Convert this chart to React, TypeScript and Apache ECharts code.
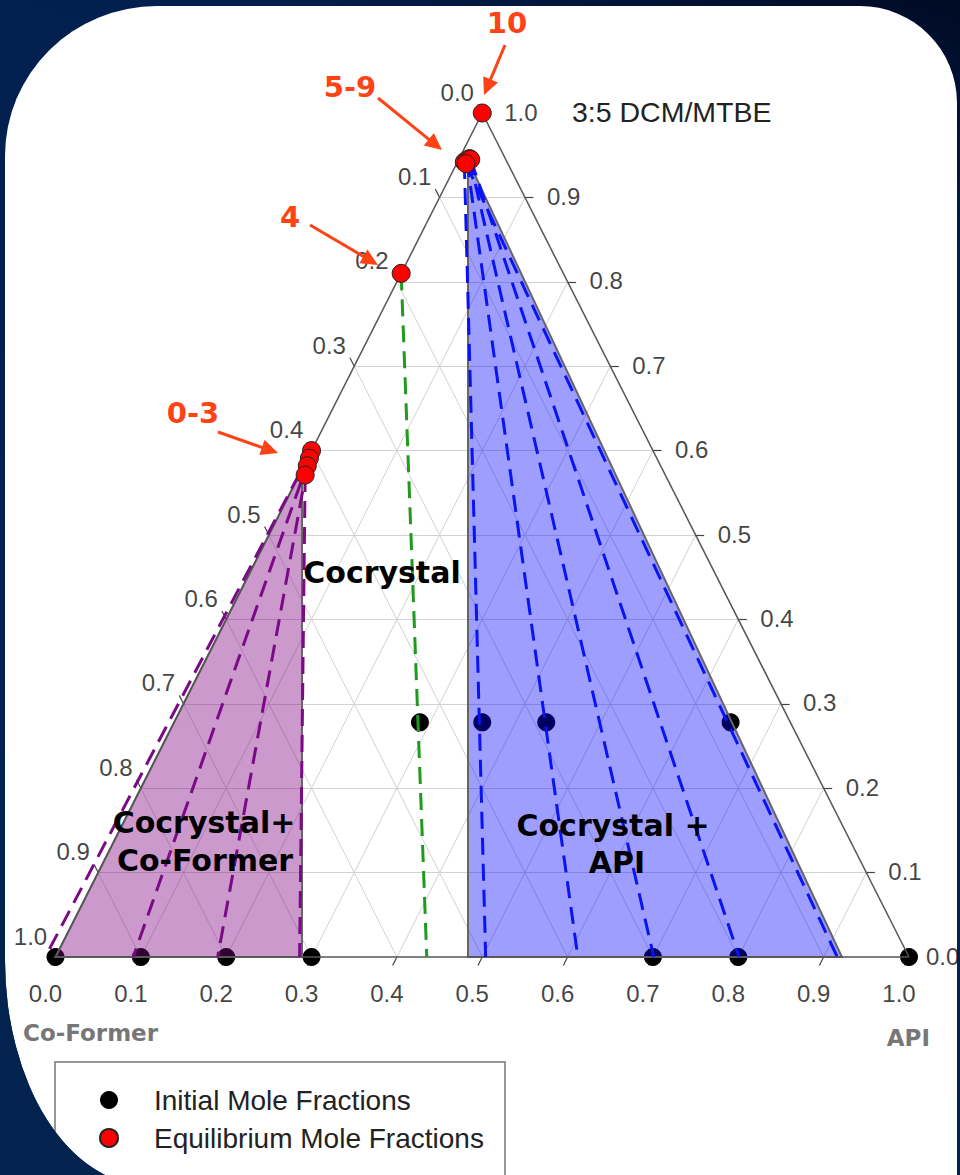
import React, { useEffect, useRef } from "react";
import * as echarts from "echarts";

// ---------- data ----------
const tickValues = [0, 0.1, 0.2, 0.3, 0.4, 0.5, 0.6, 0.7, 0.8, 0.9, 1.0];
const bottomTickLabels = ["0.0", "0.1", "0.2", "0.3", "0.4", "0.5", "0.6", "0.7", "0.8", "0.9", "1.0"];
// left edge: co-former fraction, from top vertex (0.0) to bottom-left vertex (1.0)
const leftTickLabels = ["0.0", "0.1", "0.2", "0.3", "0.4", "0.5", "0.6", "0.7", "0.8", "0.9", "1.0"];
// right edge: solvent fraction, from top vertex (1.0) to bottom-right vertex (0.0)
const rightTickLabels = ["1.0", "0.9", "0.8", "0.7", "0.6", "0.5", "0.4", "0.3", "0.2", "0.1", "0.0"];

// initial mole fractions (API, solvent)
const initialAPI = [0.0, 0.1, 0.2, 0.3, 0.7, 0.8, 1.0, 0.288, 0.361, 0.436, 0.652];
const initialSolvent = [0, 0, 0, 0, 0, 0, 0, 0.278, 0.278, 0.278, 0.278];

// equilibrium mole fractions (API, solvent)
const eqNames = ["0", "1", "2", "3", "4", "5", "6", "7", "8", "9", "10"];
const eqAPI = [0.0, 0.002, 0.004, 0.007, 0.0, 0.008, 0.01, 0.012, 0.014, 0.011, 0.0];
const eqSolvent = [0.6, 0.591, 0.582, 0.571, 0.81, 0.942, 0.944, 0.946, 0.945, 0.94, 1.0];

// tie lines: equilibrium point index -> API fraction of the solid end (solvent = 0)
const purpleTieFrom = [0, 1, 2, 3];
const purpleTieTo = [-0.012, 0.091, 0.19, 0.286];
const greenTieFrom = [4];
const greenTieTo = [0.435];
const blueTieFrom = [5, 6, 7, 8, 9];
const blueTieTo = [0.504, 0.612, 0.701, 0.801, 0.916];

// phase regions (API, solvent) vertices
const coformerRegionAPI = [0, 0, 0.2888];
const coformerRegionSolvent = [0, 0.5776, 0];
const apiRegionAPI = [0.0113, 0.4833, 0.9215];
const apiRegionSolvent = [0.944, 0, 0];

// ---------- helpers ----------
const toXY = (a: number, s: number): [number, number] => [a + s / 2, s];
const RED = "#ff4316";
const SANS = '"Liberation Sans", Arial, sans-serif';
const BOLD = '"DejaVu Sans", Verdana, sans-serif';

function arrow(x1: number, y1: number, x2: number, y2: number) {
  const dx = x2 - x1, dy = y2 - y1;
  const L = Math.hypot(dx, dy);
  const ux = dx / L, uy = dy / L;
  const head = 17, hw = 8;
  const bx = x2 - ux * head, by = y2 - uy * head;
  const px = -uy, py = ux;
  return [
    { type: "line", z: 100, shape: { x1, y1, x2: bx + ux * 2, y2: by + uy * 2 }, style: { stroke: RED, lineWidth: 3 } },
    {
      type: "polygon",
      z: 100,
      shape: { points: [[x2, y2], [bx + px * hw, by + py * hw], [bx - px * hw, by - py * hw]] },
      style: { fill: RED },
    },
  ];
}

function txt(text: string, x: number, y: number, font: string, fill: string, align = "center") {
  return { type: "text", z: 100, x, y, style: { text, font, fill, align, verticalAlign: "middle" } };
}

function buildOption() {
  // grid lines
  const grid: any[] = [];
  for (let k = 1; k <= 9; k++) {
    const v = tickValues[k];
    grid.push({ coords: [toXY(0, v), toXY(1 - v, v)] });
    grid.push({ coords: [toXY(v, 0), toXY(v, 1 - v)] });
    grid.push({ coords: [toXY(1 - v, 0), toXY(0, 1 - v)] });
  }
  // ticks
  const t = 0.01;
  const ticks: any[] = [];
  tickValues.forEach((v) => {
    ticks.push({ coords: [toXY(v, 0), toXY(v, -t)] });
    ticks.push({ coords: [toXY(0, 1 - v), toXY(-t, 1 - v + t)] });
    ticks.push({ coords: [toXY(1 - v, v), toXY(1 - v + t, v)] });
  });
  const edges = [
    { coords: [toXY(0, 0), toXY(1, 0)] },
    { coords: [toXY(1, 0), toXY(0, 1)] },
    { coords: [toXY(0, 1), toXY(0, 0)] },
  ];
  const tie = (from: number[], to: number[], color: string) =>
    from.map((i, j) => ({
      coords: [toXY(eqAPI[i], eqSolvent[i]), toXY(to[j], 0)],
      lineStyle: { color },
    }));
  const ties = [
    ...tie(purpleTieFrom, purpleTieTo, "#7a0a86"),
    ...tie(greenTieFrom, greenTieTo, "#1f9a1f"),
    ...tie(blueTieFrom, blueTieTo, "#0a14f0"),
  ];
  const regions = [
    { a: coformerRegionAPI, s: coformerRegionSolvent, fill: "rgba(128,0,128,0.4)" },
    { a: apiRegionAPI, s: apiRegionSolvent, fill: "rgba(0,0,255,0.38)" },
  ];

  const labelSeries = (data: any[], label: any) => ({
    type: "scatter",
    symbolSize: 0,
    silent: true,
    z: 8,
    data,
    label: {
      show: true,
      position: "inside",
      formatter: (p: any) => p.name,
      fontFamily: SANS,
      fontSize: 24,
      color: "#111",
      ...label,
    },
  });

  return {
    animation: false,
    grid: { left: 55.5, right: 51, top: 113, bottom: 218 },
    xAxis: { type: "value", min: 0, max: 1, show: false },
    yAxis: { type: "value", min: 0, max: 1, show: false },
    legend: {
      orient: "vertical",
      left: 55,
      top: 1062,
      itemWidth: 18,
      itemHeight: 18,
      itemGap: 10,
      padding: [24, 23, 8, 44],
      borderWidth: 0,
      selectedMode: false,
      textStyle: { fontFamily: SANS, fontSize: 28, color: "#222", padding: [0, 0, 0, 31] },
      data: [
        { name: "Initial Mole Fractions", icon: "circle" },
        { name: "Equilibrium Mole Fractions", icon: "circle" },
      ],
    },
    series: [
      {
        type: "lines",
        coordinateSystem: "cartesian2d",
        silent: true,
        z: 1,
        clip: false,
        lineStyle: { color: "#d2d2d2", width: 1, opacity: 1 },
        data: grid,
      },
      {
        type: "lines",
        coordinateSystem: "cartesian2d",
        silent: true,
        z: 2,
        clip: false,
        lineStyle: { color: "#444", width: 1.2, opacity: 1 },
        data: ticks,
      },
      {
        name: "Initial Mole Fractions",
        type: "scatter",
        z: 3,
        symbolSize: 18,
        itemStyle: { color: "#000", opacity: 1 },
        data: initialAPI.map((a, i) => toXY(a, initialSolvent[i])),
      },
      {
        type: "custom",
        z: 4,
        silent: true,
        clip: false,
        data: regions.map((_, i) => [i, 0]),
        renderItem: (params: any, api: any) => {
          const r = regions[params.dataIndex];
          const pts = r.a.map((a, i) => api.coord(toXY(a, r.s[i])));
          return {
            type: "polygon",
            shape: { points: pts },
            style: { fill: r.fill, stroke: "#666", lineWidth: 2 },
          };
        },
      },
      {
        type: "lines",
        coordinateSystem: "cartesian2d",
        silent: true,
        z: 5,
        clip: false,
        lineStyle: { color: "#555", width: 1.5, opacity: 1 },
        data: edges,
      },
      {
        type: "lines",
        coordinateSystem: "cartesian2d",
        silent: true,
        z: 6,
        clip: false,
        lineStyle: { width: 3, type: [17, 9], opacity: 1 },
        data: ties,
      },
      {
        name: "Equilibrium Mole Fractions",
        type: "scatter",
        z: 7,
        symbolSize: 18,
        itemStyle: { color: "#ff0000", borderColor: "#222", borderWidth: 1, opacity: 1 },
        data: eqAPI.map((a, i) => ({ name: eqNames[i], value: toXY(a, eqSolvent[i]) })),
      },
      labelSeries(
        tickValues.map((v, i) => ({ name: bottomTickLabels[i], value: toXY(v, 0) })),
        { offset: [-10, 36] }
      ),
      labelSeries(
        tickValues.map((v, i) => ({ name: leftTickLabels[i], value: toXY(0, 1 - v) })),
        { offset: [-25, -21] }
      ),
      labelSeries(
        tickValues.map((v, i) =>
          i === tickValues.length - 1
            ? { name: rightTickLabels[i], value: toXY(v, 1 - v), label: { offset: [17, -1] } }
            : { name: rightTickLabels[i], value: toXY(v, 1 - v) }
        ),
        { offset: [22, -1], align: "left" }
      ),
    ],
    graphic: [
      {
        type: "rect",
        z: 100,
        shape: { x: 55, y: 1062, width: 450, height: 160 },
        style: { fill: "none", stroke: "#777", lineWidth: 1.5 },
      },
      txt("3:5 DCM/MTBE", 572, 112, `28.5px ${SANS}`, "#222", "left"),
      txt("Cocrystal", 382, 572, `bold 30px ${BOLD}`, "#000"),
      txt("Cocrystal+", 204, 822, `bold 30px ${BOLD}`, "#000"),
      txt("Co-Former", 205, 860, `bold 30px ${BOLD}`, "#000"),
      txt("Cocrystal +", 613, 825, `bold 30px ${BOLD}`, "#000"),
      txt("API", 617, 862, `bold 30px ${BOLD}`, "#000"),
      txt("Co-Former", 23, 1033, `bold 23px ${BOLD}`, "#777", "left"),
      txt("API", 930, 1038, `bold 23px ${BOLD}`, "#777", "right"),
      txt("10", 507, 23, `bold 29px ${BOLD}`, RED),
      txt("5-9", 350, 87, `bold 29px ${BOLD}`, RED),
      txt("4", 290, 217, `bold 29px ${BOLD}`, RED),
      txt("0-3", 193, 413, `bold 29px ${BOLD}`, RED),
      ...arrow(505, 45, 484, 95),
      ...arrow(378, 98, 442, 150),
      ...arrow(310, 225, 378, 265),
      ...arrow(218, 432, 278, 453),
    ],
  };
}

const PANEL_PATH =
  "M157 6 L860 6 A97 97 0 0 1 957 103 L957 1185 L147 1185 A142 225 0 0 1 5 960 L5 156 A152 150 0 0 1 157 6 Z";
const CORNER_PATH = "M0 900 L5 900 L5 960 A142 225 0 0 0 147 1185 L0 1185 Z";

export default function App() {
  const ref = useRef<HTMLDivElement>(null);
  useEffect(() => {
    document.body.style.margin = "0";
    if (!ref.current) return;
    const chart = echarts.init(ref.current, undefined, { renderer: "svg" });
    chart.setOption(buildOption() as any);
    return () => chart.dispose();
  }, []);
  return (
    <div
      style={{
        position: "relative",
        width: 960,
        height: 1175,
        overflow: "hidden",
        background: "linear-gradient(200deg, #000a24 0%, #02204f 18%, #03234f 100%)",
      }}
    >
      <div
        style={{
          position: "absolute",
          left: 0,
          top: 0,
          width: 960,
          height: 1175,
          background: "#fff",
          clipPath: `path('${PANEL_PATH}')`,
        }}
      />
      <div ref={ref} style={{ position: "absolute", left: 0, top: 0, width: 960, height: 1175 }} />
      <div
        style={{
          position: "absolute",
          left: 0,
          top: 0,
          width: 960,
          height: 1175,
          background: "#03234f",
          clipPath: `path('${CORNER_PATH}')`,
          pointerEvents: "none",
        }}
      />
    </div>
  );
}
